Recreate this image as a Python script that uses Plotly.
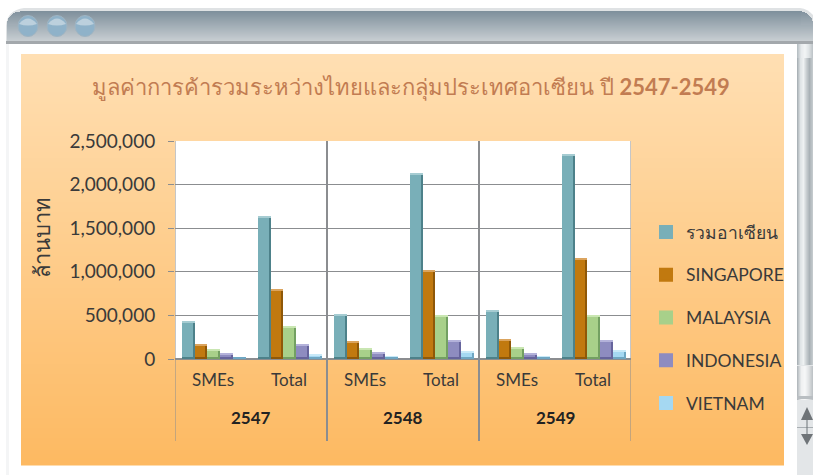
import numpy as np
import plotly.graph_objects as go

W, H = 813, 475
years = ["2547", "2548", "2549"]
categories = ["SMEs", "Total", "SMEs", "Total", "SMEs", "Total"]
asean = [436000, 1640000, 516000, 2130000, 558000, 2351000]
singapore = [168000, 799000, 203000, 1017000, 229000, 1155000]
malaysia = [111000, 382000, 130000, 504000, 138000, 508000]
indonesia = [69000, 168000, 80000, 221000, 65000, 214000]
vietnam = [19000, 54000, 31000, 88000, 34000, 103000]
series_names = ["รวมอาเซียน", "SINGAPORE", "MALAYSIA", "INDONESIA", "VIETNAM"]
series_values = [asean, singapore, malaysia, indonesia, vietnam]
main_colors = ["#79afb8", "#c1790f", "#a8d08a", "#8e8cc0", "#a5d8f2"]
dark_colors = ["#4d818a", "#8f5808", "#73a062", "#66649c", "#6fa6c2"]
top_colors = ["#a6ccd2", "#dba45e", "#c9e6b2", "#b4b2da", "#c8e9f8"]
title_text = "มูลค่าการค้ารวมระหว่างไทยและกลุ่มประเทศอาเซียน ปี <b>2547-2549</b>"
y_title = "ล้านบาท"
FONT = "Lato, 'Noto Sans', sans-serif"
INK = "#3a3a3a"
GRID = "#8b8d90"

# plot frame in pixels of the page
L, R, T, B = 175, 631, 141, 359
def px(x): return x / W
def py(y): return 1 - y / H

shapes = []
def rect(x0, y0, x1, y1, color):
    shapes.append(dict(type="rect", xref="paper", yref="paper", layer="below",
                       x0=px(x0), x1=px(x1), y0=py(y0), y1=py(y1),
                       fillcolor=color, line=dict(width=0)))
def lerp(c0, c1, t):
    a = [int(c0[i:i+2], 16) for i in (1, 3, 5)]
    b = [int(c1[i:i+2], 16) for i in (1, 3, 5)]
    return "#%02x%02x%02x" % tuple(round(p + (q - p) * t) for p, q in zip(a, b))
def vgrad(x0, y0, x1, y1, c0, c1, step=2):
    for y in range(y0, y1, step):
        rect(x0, y, x1, min(y + step, y1) + 0.5, lerp(c0, c1, (y - y0) / max(1, y1 - y0)))
def hgrad(x0, y0, x1, y1, stops):
    n = len(stops) - 1
    for x in range(x0, x1):
        t = (x - x0) / max(1, x1 - x0 - 1) * n
        k = min(int(t), n - 1)
        rect(x, y0, x + 1.5, y1, lerp(stops[k], stops[k + 1], t - k))

# window chrome
rect(6, 44, 9, 475, "#f4f5f6")
shapes.append(dict(type="path", xref="paper", yref="paper", layer="below",
    path=f"M {px(6)} {py(44)} L {px(6)} {py(26)} Q {px(7)} {py(10)} {px(24)} {py(8)} "
         f"L {px(800)} {py(8)} Q {px(808)} {py(9)} {px(813)} {py(15)} L {px(813)} {py(44)} Z",
    fillcolor="#dfe2e4", line=dict(width=0)))
vgrad(20, 11, 802, 41, "#7f909c", "#c9cfd3", 1)
for k in range(14):
    # rounded corners of the title bar
    inset = int(round(13 - (169 - (13 - k) ** 2) ** 0.5)) if k < 13 else 0
    c = lerp("#7f909c", "#c9cfd3", (k + 1) / 30)
    rect(7 + inset, 11 + k, 21, 12 + k, c)
    rect(801, 11 + k, 813 - inset, 12 + k, c)
vgrad(7, 25, 21, 41, lerp("#7f909c", "#c9cfd3", .47), "#c9cfd3", 1)
vgrad(801, 25, 813, 41, lerp("#7f909c", "#c9cfd3", .47), "#c9cfd3", 1)
rect(6, 41, 813, 44, "#a3a8ac")
for cx in (28, 57, 85):
    shapes.append(dict(type="circle", xref="paper", yref="paper", layer="below",
        x0=px(cx - 10), x1=px(cx + 10), y0=py(36.5), y1=py(15.5),
        fillcolor="#8fb2c9", line=dict(color="#9fb4c2", width=1)))
    shapes.append(dict(type="path", xref="paper", yref="paper", layer="below",
        path=f"M {px(cx-9)} {py(24)} Q {px(cx)} {py(13)} {px(cx+9)} {py(24)} "
             f"Q {px(cx)} {py(27)} {px(cx-9)} {py(24)} Z",
        fillcolor="#bcd0dd", line=dict(width=0)))

# scrollbar
bar_stops = ["#aab2b7", "#dfe4e6", "#eef1f2", "#c8ced1", "#a9b1b6", "#c3c9cc"]
hgrad(797, 44, 813, 475, bar_stops)
rect(797, 365, 813, 475, "#e3e6e8")
hgrad(797, 44, 813, 58, ["#b8c0c4", "#e6eaec", "#f2f4f5", "#dfe4e6", "#c0c6ca"])
hgrad(797, 366, 813, 400, ["#b4babe", "#eef0f1", "#f6f7f8", "#dfe2e4", "#bfc4c7"])
rect(797, 396, 813, 399, "#b9bec2")
rect(797, 427, 813, 428, "#a8aeb2")
shapes.append(dict(type="path", xref="paper", yref="paper", layer="below",
    path=f"M {px(807)} {py(407)} L {px(813)} {py(420)} L {px(801)} {py(420)} Z", fillcolor="#6f7478", line=dict(width=0)))
shapes.append(dict(type="path", xref="paper", yref="paper", layer="below",
    path=f"M {px(807)} {py(445)} L {px(813)} {py(434)} L {px(801)} {py(434)} Z", fillcolor="#6f7478", line=dict(width=0)))
rect(806.5, 415, 807.5, 438, "#6f7478")

# panel
vgrad(21, 54, 784, 465, "#ffdfb3", "#fdb961", 2)
rect(L, T, R, B, "#ffffff")

# year dividers
for i, lw in zip(range(4), (1, 2, 2, 1)):
    shapes.append(dict(type="line", xref="x", yref="paper", x0=i * 2 - 0.5, x1=i * 2 - 0.5,
                       y0=py(441), y1=py(T), layer="below", line=dict(color=GRID, width=lw)))

fig = go.Figure()
x = np.arange(len(categories))
bar_w = 12.8 / 76
START = -0.41
CAP = 24000
for i, (name, vals) in enumerate(zip(series_names, series_values)):
    off = START + i * bar_w
    common = dict(x=x, hoverinfo="skip", showlegend=False)
    fig.add_bar(x=x, y=vals, name=name, offset=off, width=bar_w, showlegend=False,
                marker=dict(color=main_colors[i], line=dict(width=0)))
    fig.add_bar(y=vals, offset=off + bar_w * 0.84, width=bar_w * 0.16,
                marker=dict(color=dark_colors[i], line=dict(width=0)), **common)
    fig.add_bar(y=[min(CAP, v) for v in vals], base=[v - min(CAP, v) for v in vals], offset=off, width=bar_w,
                marker=dict(color=top_colors[i], line=dict(width=0)), **common)
    fig.add_bar(y=[min(CAP, v) * 0.8 for v in vals], offset=off, width=bar_w,
                marker=dict(color=dark_colors[i], line=dict(width=0)), **common)
    # legend key, slightly larger than plotly's default bar swatch
    fig.add_bar(x=[None], y=[None], name=name, legendgroup=name, hoverinfo="skip",
                marker=dict(color=main_colors[i], line=dict(width=2, color=main_colors[i])))

annotations = [dict(text=y, x=2 * k + 0.5, xref="x", yref="paper", y=py(417), yanchor="middle",
                    showarrow=False, font=dict(family=FONT, size=17, color="#222222", weight="bold"))
               for k, y in enumerate(years)]
annotations.append(dict(text=y_title, textangle=-90, xref="paper", yref="paper", x=px(41), y=py(238),
                        xanchor="center", yanchor="middle", showarrow=False,
                        font=dict(family=FONT, size=22, color=INK)))

fig.update_layout(
    width=W, height=H, margin=dict(l=0, r=0, t=0, b=0, autoexpand=False), autosize=False,
    paper_bgcolor="#ffffff", plot_bgcolor="#ffffff", barmode="overlay", bargap=0,
    title=dict(text=title_text, x=px(411), xanchor="center", y=py(87), yanchor="middle",
               font=dict(family=FONT, size=22, color="#c27c52")),
    xaxis=dict(domain=[px(L), px(R)], range=[-0.5, 5.5], tickmode="array", tickvals=x, ticktext=categories,
               ticks="", showgrid=False, zeroline=False, showline=False, ticklabelstandoff=9, automargin=False,
               tickfont=dict(family=FONT, size=17, color=INK)),
    yaxis=dict(domain=[py(B), py(T)], range=[0, 2500000], tickvals=[0, 500000, 1000000, 1500000, 2000000, 2500000],
               tickformat=",d", ticks="outside", ticklen=6, tickcolor=GRID, gridcolor=GRID, gridwidth=1, showline=False,
               zeroline=True, zerolinecolor=GRID, ticklabelstandoff=9, automargin=False,
               tickfont=dict(family=FONT, size=19, color=INK)),
    legend=dict(x=px(646), y=py(232 - 18), xanchor="left", yanchor="top", bgcolor="rgba(0,0,0,0)",
                tracegroupgap=17, itemclick=False, font=dict(family=FONT, size=17.5, color=INK)),
    shapes=shapes, annotations=annotations, showlegend=True, hovermode=False,
)
fig.write_html("out.html", post_script="document.body.style.margin='0';document.body.style.overflow='hidden';",
               config=dict(displayModeBar=False))
